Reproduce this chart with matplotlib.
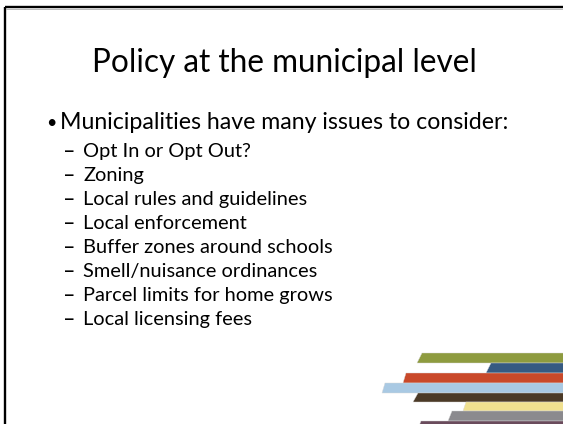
import matplotlib.pyplot as plt
from matplotlib.patches import Polygon

# slide text
title = 'Policy at the municipal level'
main_item = 'Municipalities have many issues to consider:'
sub_items = [
    'Opt In or Opt Out?',
    'Zoning',
    'Local rules and guidelines',
    'Local enforcement',
    'Buffer zones around schools',
    'Smell/nuisance ordinances',
    'Parcel limits for home grows',
    'Local licensing fees',
]

# decorative stripes, top to bottom
stripe_colors = ['#8e9b3f', '#365a82', '#c9492a', '#a9c9e3',
                 '#4b3a27', '#f0e08f', '#8b8a8e', '#6a4b5c']

W, H = 563, 424
FONT = ['Lato', 'DejaVu Sans']

fig = plt.figure(figsize=(W / 100, H / 100), dpi=100)
ax = fig.add_axes([0, 0, 1, 1])
ax.set_xlim(0, W)
ax.set_ylim(H, 0)
ax.axis('off')


def fit_width(txt, target):
    # scale font size so the text spans target pixels
    r = fig.canvas.get_renderer()
    w = txt.get_window_extent(r).width
    txt.set_fontsize(txt.get_fontsize() * target / w)
    return txt.get_fontsize()


# frame (top and left edges)
ax.plot([4.5, W], [7, 7], color='black', lw=1.7, solid_capstyle='butt')
ax.plot([4.5, 4.5], [7, H], color='black', lw=1.7, solid_capstyle='butt')
ax.plot([5.5, W], [8.6, 8.6], color='#b0b0b0', lw=0.6)

t = ax.text(92, 72.5, title, fontsize=24, family=FONT, va='baseline', color='black')
fit_width(t, 385)

ax.text(46, 128, '•', fontsize=13, family=FONT, va='baseline')
m = ax.text(60, 129, main_item, fontsize=18, family=FONT, va='baseline')
fit_width(m, 448)

probe = ax.text(0, -50, 'Local enforcement', fontsize=14, family=FONT)
sub_fs = fit_width(probe, 164)
probe.remove()

for i, s in enumerate(sub_items):
    y = 156.7 + i * 24
    ax.text(64, y, '–', fontsize=sub_fs * 1.05, family='DejaVu Sans', va='baseline')
    ax.text(83, y, s, fontsize=sub_fs, family=FONT, va='baseline')

# stripe geometry: (top, bottom, left at top, left at bottom)
stripe_geom = [
    (353.3, 363.3, 421.7, 417.0),
    (363.3, 372.7, 490.7, 486.0),
    (372.7, 382.5, 406.0, 403.0),
    (382.5, 392.5, 385.0, 381.7),
    (392.5, 401.7, 417.5, 413.3),
    (401.7, 411.0, 466.0, 462.7),
    (411.0, 421.3, 451.7, 447.5),
    (421.3, 426.0, 421.0, 419.0),
]
for c, (y0, y1, x0, x1) in zip(stripe_colors, stripe_geom):
    ax.add_patch(Polygon([(x0, y0), (W + 5, y0), (W + 5, y1), (x1, y1)],
                         closed=True, facecolor=c, edgecolor='#d8d8d8', lw=0.3))

fig.savefig('out.png', dpi=100)
